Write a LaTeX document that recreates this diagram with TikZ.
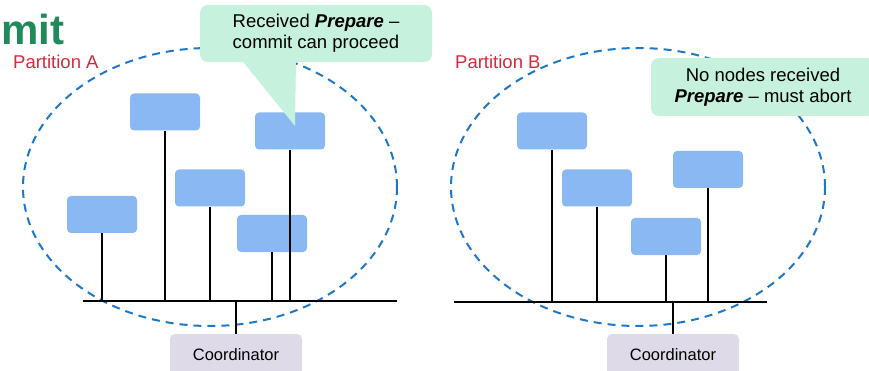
\documentclass[tikz,border=0pt]{standalone}
\usepackage{fontspec}
\setmainfont{Liberation Sans}
\definecolor{titlegreen}{HTML}{1F8A5B}
\definecolor{partred}{HTML}{D22B3D}
\definecolor{ringblue}{HTML}{1E78C8}
\definecolor{nodeblue}{HTML}{8AB8F2}
\definecolor{notegreen}{HTML}{C6F1DC}
\definecolor{coordlilac}{HTML}{DFDAE8}
\tikzset{
  member/.style={rectangle, rounded corners=4pt, fill=nodeblue, minimum width=70pt, minimum height=37pt, inner sep=0pt},
  coordbox/.style={rectangle, rounded corners=5pt, fill=coordlilac, minimum width=132pt, minimum height=42pt, inner sep=0pt, font=\fontsize{16.5}{19}\selectfont},
  note/.style={rectangle, rounded corners=8pt, fill=notegreen, inner sep=0pt, align=center, font=\fontsize{18.5}{21}\selectfont},
  ring/.style={draw=ringblue, line width=2pt, dash pattern=on 8pt off 6pt},
  wire/.style={draw=black, line width=2.2pt},
  partlabel/.style={text=partred, font=\fontsize{18.5}{21}\selectfont, anchor=base west, inner sep=0pt}
}
\begin{document}
\begin{tikzpicture}[x=1pt,y=-1pt]
\clip (0,0) rectangle (869,371);
\fill[white] (0,0) rectangle (869,371);

% heading fragment
\node[anchor=base west, inner sep=0pt, text=titlegreen, font=\fontsize{42}{46}\selectfont\bfseries] (title) at (1,45) {mit};

% partition boundaries
\draw[ring] (210,187) ellipse [x radius=187, y radius=139];
\draw[ring] (638,187) ellipse [x radius=187, y radius=139];
\node[partlabel] (labA) at (13,69) {Partition A};
\node[partlabel] (labB) at (455,69) {Partition B};

% buses
\coordinate (busAL) at (83,301);
\coordinate (busAR) at (397,301);
\coordinate (busBL) at (454,302);
\coordinate (busBR) at (767,302);
\draw[wire] (busAL) -- (busAR);
\draw[wire] (busBL) -- (busBR);

% partition A members
\node[member] (a1) at (165,112) {};
\node[member] (a2) at (290,131) {};
\node[member] (a3) at (210,188) {};
\node[member] (a4) at (102,214.5) {};
\node[member] (a5) at (272,233.5) {};
% partition B members
\node[member] (b1) at (552,131) {};
\node[member] (b2) at (597,188) {};
\node[member] (b3) at (708,169.5) {};
\node[member] (b4) at (666,236.5) {};

% coordinators
\node[coordbox] (coA) at (236,355) {Coordinator};
\node[coordbox] (coB) at (673,355) {Coordinator};

% drops onto the buses
\foreach \n in {a1,a2,a3,a4,a5}
  \draw[wire] (\n.south) -- (\n.south |- busAL);
\foreach \n in {b1,b2,b3,b4}
  \draw[wire] (\n.south) -- (\n.south |- busBL);
\draw[wire] (coA.north) -- (coA.north |- busAL);
\draw[wire] (coB.north) -- (coB.north |- busBL);

% speech bubbles
\node[note, minimum width=232pt, minimum height=57pt] (noteA) at (316,33.5)
  {Received {\bfseries\itshape Prepare} –\\commit can proceed};
\coordinate (tipA) at (295,126);
\fill[notegreen] (240,58) -- (tipA) -- (296,58) -- cycle;

\node[note, minimum width=224pt, minimum height=58pt] (noteB) at (763,87)
  {No nodes received\\{\bfseries\itshape Prepare} – must abort};
\end{tikzpicture}
\end{document}
